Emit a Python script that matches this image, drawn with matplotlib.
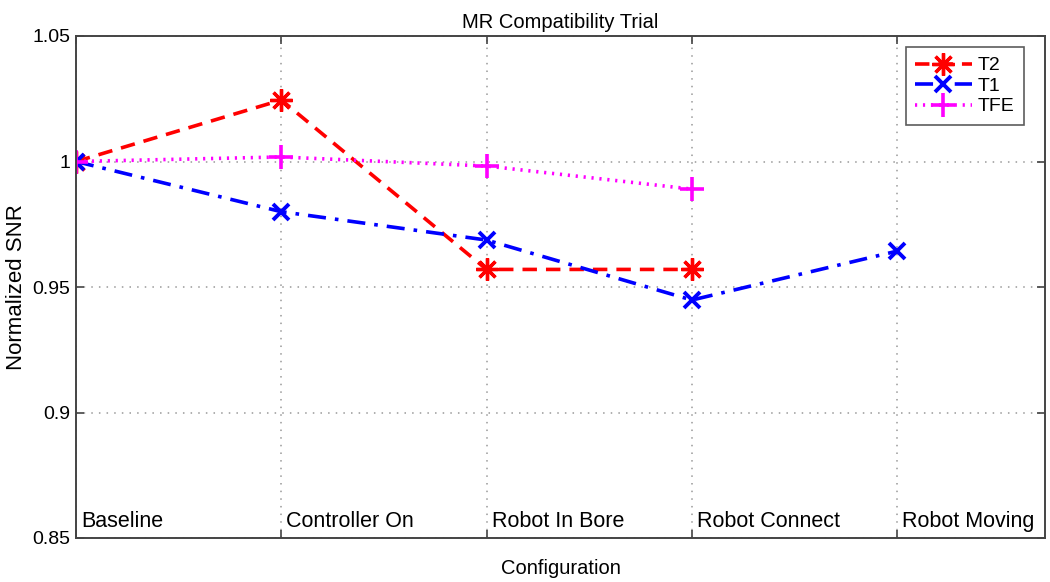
import matplotlib
matplotlib.use("Agg")
import matplotlib.pyplot as plt

plt.rcParams['font.family'] = ['Liberation Sans', 'DejaVu Sans']

categories = ["Baseline", "Controller On", "Robot In Bore", "Robot Connect", "Robot Moving"]
x_pos = [1, 2, 3, 4, 5]
t2 = [1.0, 1.0245, 0.957, 0.957]
t1 = [1.0, 0.980, 0.9687, 0.9448, 0.9643]
tfe = [1.0, 1.0018, 0.9982, 0.989]
yticks = [0.85, 0.9, 0.95, 1.0, 1.05]
ytick_labels = ["0.85", "0.9", "0.95", "1", "1.05"]

fig = plt.figure(figsize=(10.5, 5.82), dpi=100)
ax = fig.add_axes([76/1050, 44/582, 969/1050, 502/582])

ax.plot(x_pos[:len(t2)], t2, color=(1, 0, 0), linestyle=(0, (4, 2.5)), lw=2.6,
        marker=(8, 2, 0), markersize=16, mew=2.4, label="T2")
ax.plot(x_pos[:len(t1)], t1, color=(0, 0, 1), linestyle=(0, (5, 2.5, 1, 2.5)), lw=2.6,
        marker='x', markersize=12, mew=2.8, label="T1")
ax.plot(x_pos[:len(tfe)], tfe, color=(1, 0, 1), linestyle=(0, (0.6, 1.6)), lw=2.6,
        marker='+', markersize=17, mew=2.6, label="TFE")

ax.set_xlim(1, 5.72)
ax.set_ylim(0.85, 1.05)
ax.set_xticks(x_pos)
ax.set_xticklabels([])
ax.set_yticks(yticks)
ax.set_yticklabels(ytick_labels, fontsize=14)
ax.tick_params(direction='in', length=6, width=1.2, color='#444444', top=True, right=True, pad=4)
ax.grid(True, linestyle=(0, (1, 4)), color='#999999', lw=1.1)
for s in ax.spines.values():
    s.set_color('#444444')
    s.set_linewidth(1.4)

for xp, name in zip(x_pos, categories):
    ax.text(xp + 0.025, 0.8545, name, fontsize=15.5, ha='left', va='baseline')

ax.set_title("MR Compatibility Trial", fontsize=14.5, pad=6)
ax.set_xlabel("Configuration", fontsize=14.5, labelpad=11)
ax.set_ylabel("Normalized SNR", fontsize=16, labelpad=4)

leg = ax.legend(loc='upper right', bbox_to_anchor=((1024 - 76) / 969, (538 - 47) / 502),
                borderaxespad=0, fontsize=14, frameon=True, fancybox=False,
                edgecolor='#333333', handlelength=2.9, handletextpad=0.3,
                borderpad=0.5, labelspacing=0.15)
leg.get_frame().set_linewidth(1.2)

fig.savefig("out.png", dpi=100)
